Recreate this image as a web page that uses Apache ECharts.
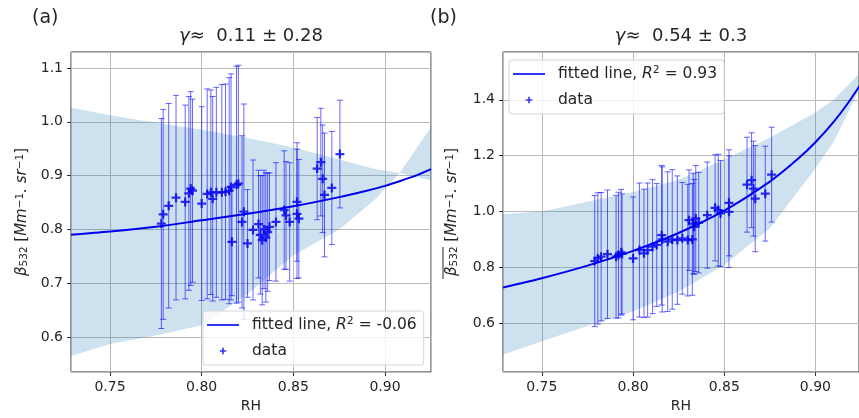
<!DOCTYPE html>
<html>
<head>
<meta charset="utf-8">
<script src="https://cdn.jsdelivr.net/npm/echarts@6/dist/echarts.min.js"></script>
<style>
html, body { margin: 0; padding: 0; background: #fff; }
#chart { width: 859px; height: 418px; }
</style>
</head>
<body>
<div id="chart"></div>
<script>
// panel (a): beta_532 against RH, half-width of each error bar in errA
let rhA = [0.778, 0.779, 0.782, 0.786, 0.791, 0.793, 0.794, 0.795, 0.800, 0.803, 0.805, 0.806, 0.808, 0.811, 0.813,
    0.815, 0.816, 0.8165, 0.819, 0.820, 0.822, 0.823, 0.825, 0.828, 0.831, 0.832, 0.833, 0.834, 0.835, 0.836,
    0.837, 0.8405, 0.845, 0.846, 0.848, 0.852, 0.852, 0.853, 0.863, 0.865, 0.866, 0.867, 0.871, 0.8754];
let betaA = [0.811, 0.828, 0.844, 0.859, 0.851, 0.867, 0.876, 0.872, 0.848, 0.866, 0.869, 0.857, 0.869, 0.869, 0.870,
    0.872, 0.879, 0.777, 0.883, 0.885, 0.814, 0.833, 0.774, 0.799, 0.810, 0.790, 0.780, 0.800, 0.785, 0.795,
    0.805, 0.814, 0.836, 0.826, 0.814, 0.851, 0.829, 0.820, 0.913, 0.925, 0.894, 0.864, 0.877, 0.940];
let errA = [0.195, 0.195, 0.19, 0.19, 0.18, 0.18, 0.18, 0.17, 0.18, 0.195, 0.19, 0.19, 0.195, 0.2, 0.2,
    0.21, 0.21, 0.1, 0.22, 0.22, 0.16, 0.2, 0.1, 0.13, 0.1, 0.11, 0.12, 0.11, 0.12, 0.11,
    0.1, 0.11, 0.11, 0.1, 0.11, 0.11, 0.12, 0.11, 0.095, 0.1, 0.1, 0.115, 0.105, 0.1];

// panel (b): mean beta_532 against RH
let rhB = [0.779, 0.7807, 0.7825, 0.786, 0.7907, 0.792, 0.7935, 0.794, 0.800, 0.8035, 0.806, 0.808, 0.8107, 0.813,
    0.8157, 0.816, 0.819, 0.8215, 0.8243, 0.827, 0.830, 0.8325, 0.8307, 0.833, 0.8335, 0.8344, 0.836, 0.8407,
    0.845, 0.8467, 0.848, 0.8526, 0.8526, 0.8625, 0.865, 0.866, 0.867, 0.8725, 0.876];
let betaB = [0.8225, 0.832, 0.838, 0.847, 0.838, 0.844, 0.854, 0.848, 0.832, 0.862, 0.85, 0.862, 0.874, 0.88,
    0.915, 0.90, 0.892, 0.90, 0.8975, 0.904, 0.8975, 0.90, 0.969, 0.957, 0.945, 0.975, 0.96, 0.987,
    1.013, 1.005, 0.993, 1.031, 0.999, 1.096, 1.112, 1.082, 1.046, 1.064, 1.132];
let errB = [0.235, 0.235, 0.23, 0.23, 0.22, 0.225, 0.225, 0.215, 0.22, 0.24, 0.23, 0.24, 0.24, 0.22,
    0.25, 0.26, 0.25, 0.25, 0.23, 0.2, 0.2, 0.2, 0.18, 0.18, 0.17, 0.19, 0.18, 0.19,
    0.19, 0.2, 0.19, 0.19, 0.2, 0.17, 0.17, 0.17, 0.19, 0.17, 0.17];

// fitted lines
let rhFit = [0.7287, 0.75, 0.775, 0.80, 0.825, 0.85, 0.875, 0.89, 0.90, 0.91, 0.9175, 0.9251];
let fitA = [0.790, 0.796, 0.805, 0.817, 0.829, 0.843, 0.860, 0.872, 0.881, 0.892, 0.901, 0.912];
let fitB = [0.728, 0.761, 0.806, 0.859, 0.923, 1.003, 1.107, 1.186, 1.248, 1.321, 1.385, 1.459];

// shaded bands
let rhBandA = [0.7287, 0.75, 0.775, 0.80, 0.825, 0.85, 0.875, 0.895, 0.908, 0.9251];
let lowA = [0.565, 0.587, 0.603, 0.622, 0.68, 0.752, 0.80, 0.857, 0.905, 0.891];
let highA = [1.026, 1.012, 0.998, 0.985, 0.97, 0.952, 0.93, 0.912, 0.905, 0.99];
let rhBandB = [0.7287, 0.75, 0.775, 0.80, 0.825, 0.85, 0.875, 0.90, 0.91, 0.9234];
let lowB = [0.487, 0.535, 0.59, 0.642, 0.713, 0.808, 0.94, 1.154, 1.25, 1.43];
let highB = [0.99, 1.0, 1.035, 1.07, 1.114, 1.186, 1.264, 1.355, 1.40, 1.49];

let legendText = {
    fitA: 'fitted line, {i|R}{sup|2} = -0.06',
    dataA: 'data',
    fitB: 'fitted line, {i|R}{sup|2} = 0.93',
    dataB: 'data'
};

const FONT = 'DejaVu Sans';
const TXT = '#262626';
const BLUE = '#0000f0';
const plusPath = 'path://M3,0 H5 V3 H8 V5 H5 V8 H3 V5 H0 V3 H3 Z';
const lineIcon = 'path://M0,0 M40,8 M0,3.2 H32 V4.8 H0 Z';
const plusIcon = 'path://M0,0 M40,8 M15.2,0.8 H16.8 V3.2 H19.2 V4.8 H16.8 V7.2 H15.2 V4.8 H12.8 V3.2 H15.2 Z';

function pairs(xs, ys) {
    return xs.map((x, i) => [x, ys[i]]);
}

function errData(xs, ys, es) {
    return xs.map((x, i) => [x, ys[i] - es[i], ys[i] + es[i]]);
}

function renderErr(params, api) {
    let x = api.value(0);
    let lo = api.coord([x, api.value(1)]);
    let hi = api.coord([x, api.value(2)]);
    let cap = 3;
    let style = { stroke: 'rgba(0,0,255,0.6)', lineWidth: 1 };
    return {
        type: 'group',
        children: [
            { type: 'line', shape: { x1: lo[0], y1: lo[1], x2: hi[0], y2: hi[1] }, style: style },
            { type: 'line', shape: { x1: lo[0] - cap, y1: lo[1], x2: lo[0] + cap, y2: lo[1] }, style: style },
            { type: 'line', shape: { x1: hi[0] - cap, y1: hi[1], x2: hi[0] + cap, y2: hi[1] }, style: style }
        ]
    };
}

function bandRenderer(xs, lo, hi) {
    return function (params, api) {
        let pts = [];
        xs.forEach((x, i) => pts.push(api.coord([x, hi[i]])));
        for (let i = xs.length - 1; i >= 0; i--) {
            pts.push(api.coord([xs[i], lo[i]]));
        }
        return { type: 'polygon', shape: { points: pts }, style: { fill: 'rgba(31,119,180,0.22)' } };
    };
}

function richFor(size) {
    return {
        i: { fontStyle: 'italic', fontSize: size, fontFamily: FONT, color: TXT },
        sup: { fontSize: size * 0.7, fontFamily: FONT, color: TXT, verticalAlign: 'top', lineHeight: size },
        sub: { fontSize: size * 0.7, fontFamily: FONT, color: TXT, verticalAlign: 'bottom', lineHeight: size * 0.85 }
    };
}

function xAxisFor(grid, max) {
    return {
        type: 'value', gridIndex: grid, min: 0.7287, max: max,
        minInterval: 0.05, maxInterval: 0.05,
        name: 'RH', nameLocation: 'middle', nameGap: 27,
        nameTextStyle: { fontSize: 14, color: TXT, fontFamily: FONT },
        axisLine: { show: false },
        axisTick: { show: true, length: 4, lineStyle: { color: '#333' } },
        axisLabel: {
            fontSize: 14, color: TXT, fontFamily: FONT, margin: 8,
            showMinLabel: false, showMaxLabel: false,
            formatter: v => v.toFixed(2)
        },
        splitLine: { show: true, lineStyle: { color: '#b9b9b9', width: 1 } }
    };
}

function yAxisFor(grid, min, max, step, name, gap) {
    return {
        type: 'value', gridIndex: grid, min: min, max: max,
        minInterval: step, maxInterval: step,
        name: name, nameLocation: 'middle', nameRotate: 90, nameGap: gap,
        nameTextStyle: { fontSize: 15, color: TXT, fontFamily: FONT, rich: richFor(15) },
        axisLine: { show: false },
        axisTick: { show: true, length: 4, lineStyle: { color: '#333' } },
        axisLabel: {
            fontSize: 14, color: TXT, fontFamily: FONT, margin: 8,
            showMinLabel: false, showMaxLabel: false,
            formatter: v => v.toFixed(1)
        },
        splitLine: { show: true, lineStyle: { color: '#b9b9b9', width: 1 } }
    };
}

function legendFor(left, top, names) {
    return {
        left: left, top: top, orient: 'vertical', z: 10,
        selectedMode: false,
        data: [{ name: names[0], icon: lineIcon }, { name: names[1], icon: plusIcon }],
        itemWidth: 40, itemHeight: 8, itemGap: 8,
        padding: [5, 7, 5, 4],
        backgroundColor: 'rgba(255,255,255,0.8)',
        borderColor: '#d6d6d6', borderWidth: 1, borderRadius: 3,
        formatter: name => legendText[name],
        textStyle: { fontSize: 15.5, color: TXT, fontFamily: FONT, lineHeight: 18, rich: richFor(15.5) }
    };
}

function titleFor(text, left, top, size) {
    return {
        text: text, left: left, top: top, padding: 0,
        textAlign: size > 18.5 ? 'left' : 'center',
        textStyle: {
            fontSize: size, fontWeight: 'normal', color: TXT, fontFamily: FONT,
            rich: { g: { fontStyle: 'italic', fontSize: size, fontFamily: FONT, color: TXT } }
        }
    };
}

let option = {
    backgroundColor: '#fff',
    animation: false,
    title: [
        titleFor('(a)', 32, 9, 19),
        titleFor('(b)', 430, 9, 19),
        titleFor('{g|γ}≈  0.11 ± 0.28', 251, 27, 18),
        titleFor('{g|γ}≈  0.54 ± 0.3', 681, 27, 18)
    ],
    legend: [
        legendFor(203, 311, ['fitA', 'dataA']),
        legendFor(509, 60, ['fitB', 'dataB'])
    ],
    grid: [
        { left: 71, top: 52, width: 360, height: 321, show: true, borderColor: '#333', borderWidth: 1, backgroundColor: 'transparent' },
        { left: 503, top: 52, width: 358, height: 321, show: true, borderColor: '#333', borderWidth: 1, backgroundColor: 'transparent' }
    ],
    xAxis: [xAxisFor(0, 0.9251), xAxisFor(1, 0.9239)],
    yAxis: [
        yAxisFor(0, 0.5352, 1.1296, 0.1, '{i|β}{sub|532} [{i|Mm}{sup|−1}{i|. sr}{sup|−1}]', 41),
        yAxisFor(1, 0.425, 1.5714, 0.2, '{i|β}{sub|532} [{i|Mm}{sup|−1}{i|. sr}{sup|−1}]', 43)
    ],
    // bar over beta_532 in panel (b)
    graphic: [
        { type: 'line', shape: { x1: 443, y1: 279, x2: 443, y2: 247 }, style: { stroke: TXT, lineWidth: 1 }, z: 20 }
    ],
    series: [
        {
            type: 'custom', name: 'bandA', xAxisIndex: 0, yAxisIndex: 0, z: 1, silent: true, clip: true,
            renderItem: bandRenderer(rhBandA, lowA, highA), data: [[rhBandA[0], lowA[0]]]
        },
        {
            type: 'custom', name: 'errA', xAxisIndex: 0, yAxisIndex: 0, z: 3, silent: true, clip: true,
            renderItem: renderErr, encode: { x: 0, y: [1, 2] }, data: errData(rhA, betaA, errA)
        },
        {
            type: 'line', name: 'fitA', xAxisIndex: 0, yAxisIndex: 0, z: 4, smooth: 0.3,
            showSymbol: false, symbol: 'none', color: BLUE,
            lineStyle: { color: BLUE, width: 2 }, data: pairs(rhFit, fitA)
        },
        {
            type: 'scatter', name: 'dataA', xAxisIndex: 0, yAxisIndex: 0, z: 5,
            symbol: plusPath, symbolSize: 9, itemStyle: { color: BLUE }, data: pairs(rhA, betaA)
        },
        {
            type: 'custom', name: 'bandB', xAxisIndex: 1, yAxisIndex: 1, z: 1, silent: true, clip: true,
            renderItem: bandRenderer(rhBandB, lowB, highB), data: [[rhBandB[0], lowB[0]]]
        },
        {
            type: 'custom', name: 'errB', xAxisIndex: 1, yAxisIndex: 1, z: 3, silent: true, clip: true,
            renderItem: renderErr, encode: { x: 0, y: [1, 2] }, data: errData(rhB, betaB, errB)
        },
        {
            type: 'line', name: 'fitB', xAxisIndex: 1, yAxisIndex: 1, z: 4, smooth: 0.3,
            showSymbol: false, symbol: 'none', color: BLUE,
            lineStyle: { color: BLUE, width: 2 }, data: pairs(rhFit, fitB)
        },
        {
            type: 'scatter', name: 'dataB', xAxisIndex: 1, yAxisIndex: 1, z: 5,
            symbol: plusPath, symbolSize: 9, itemStyle: { color: BLUE }, data: pairs(rhB, betaB)
        }
    ]
};

let chart = echarts.init(document.getElementById('chart'));
chart.setOption(option);
</script>
</body>
</html>
